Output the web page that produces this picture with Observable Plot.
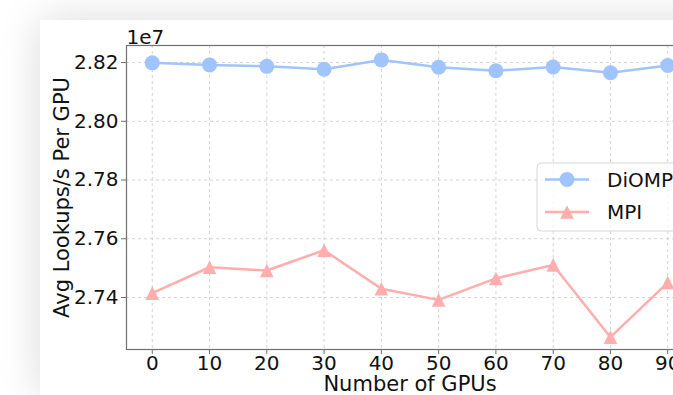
<!DOCTYPE html>
<html>
<head>
<meta charset="utf-8">
<script src="https://cdn.jsdelivr.net/npm/d3@7"></script>
<script src="https://cdn.jsdelivr.net/npm/@observablehq/plot@0.6"></script>
<style>
  html, body { margin: 0; padding: 0; background: #ffffff; overflow: hidden; width: 673px; height: 395px; }
  #card { position: absolute; left: 40px; top: 20px; width: 700px; height: 375px; background: #fff;
          box-shadow: 0 0 40px rgba(0,0,0,0.15); }
  #card svg { display: block; }
</style>
</head>
<body>
<div id="card"></div>
<script>
// ---- data ----
const gpus = [0, 10, 20, 30, 40, 50, 60, 70, 80, 90];
const diompValues = [28199000, 28192000, 28187000, 28177000, 28209000, 28184000, 28172000, 28185000, 28165000, 28190000];
const mpiValues   = [27415000, 27503000, 27492000, 27561000, 27430000, 27392000, 27465000, 27511000, 27265000, 27451000];
const seriesNames = ["DiOMP", "MPI"];
const seriesColors = ["#a0c4ff", "#ffadad"];
const xTicks = [0, 10, 20, 30, 40, 50, 60, 70, 80, 90];
const yTicks = [2.74, 2.76, 2.78, 2.80, 2.82];
const exponent = 1e7;
const xLabel = "Number of GPUs";
const yLabel = "Avg Lookups/s Per GPU";

const rows = [];
gpus.forEach((g, i) => rows.push({gpus: g, value: diompValues[i] / exponent, series: seriesNames[0]}));
gpus.forEach((g, i) => rows.push({gpus: g, value: mpiValues[i] / exponent, series: seriesNames[1]}));

// matplotlib-style triangle (bbox-centred, equal width/height)
const triUp = {
  draw(ctx, size) {
    const h = Math.sqrt(size / Math.PI);
    ctx.moveTo(0, -h); ctx.lineTo(-h, h); ctx.lineTo(h, h); ctx.closePath();
  }
};

const gridStyle = {stroke: "#c8c8c8", strokeOpacity: 1, strokeWidth: 0.8, strokeDasharray: "3,3"};

const chart = Plot.plot({
  width: 700, height: 375,
  marginLeft: 86, marginRight: 47, marginTop: 25, marginBottom: 46,
  style: {fontFamily: "DejaVu Sans, sans-serif", background: "white", color: "black", overflow: "visible"},
  x: {domain: [-4.5, 94.5]},
  y: {domain: [2.7223, 2.8258]},
  color: {domain: seriesNames, range: seriesColors},
  marks: [
    Plot.gridX(xTicks, gridStyle),
    Plot.gridY(yTicks, gridStyle),
    Plot.line(rows, {x: "gpus", y: "value", z: "series", stroke: "series", strokeWidth: 2.5}),
    Plot.dot(rows.filter(d => d.series === seriesNames[0]), {x: "gpus", y: "value", r: 7.5, fill: "series", stroke: null}),
    Plot.dot(rows.filter(d => d.series === seriesNames[1]), {x: "gpus", y: "value", r: 6.8, symbol: triUp, fill: "series", stroke: null}),
    Plot.frame({stroke: "#6f6f6f", strokeWidth: 1.2}),
    Plot.axisX(xTicks, {tickSize: 5, tickPadding: 1, fontSize: 20, label: null, stroke: "#6f6f6f", fill: "#111"}),
    Plot.axisY(yTicks, {tickSize: 5, tickPadding: 3, fontSize: 20, label: null, tickFormat: d3.format(".2f"), stroke: "#6f6f6f", fill: "#111"}),
    Plot.text([xLabel], {frameAnchor: "bottom", dy: 35, fontSize: 21, textAnchor: "middle", lineAnchor: "middle", fill: "#111"}),
    Plot.text([yLabel], {frameAnchor: "left", dx: -64, rotate: -90, fontSize: 21, textAnchor: "middle", lineAnchor: "middle", fill: "#111"}),
    Plot.text(["1e7"], {frameAnchor: "top-left", textAnchor: "start", lineAnchor: "bottom", dy: -2, fontSize: 20, fill: "#111"})
  ]
});

// legend (matplotlib-like, centre right)
const svg = d3.select(chart);
const lg = svg.append("g").attr("font-family", "DejaVu Sans, sans-serif").attr("text-anchor", "start");
lg.append("rect").attr("x", 497).attr("y", 143).attr("width", 160).attr("height", 68).attr("rx", 4)
  .attr("fill", "white").attr("fill-opacity", 0.8).attr("stroke", "#d6d6d6").attr("stroke-width", 1);
seriesNames.forEach((name, i) => {
  const cy = 159.5 + i * 32.5;
  lg.append("line").attr("x1", 505).attr("x2", 549).attr("y1", cy).attr("y2", cy)
    .attr("stroke", seriesColors[i]).attr("stroke-width", 2.5);
  if (i === 0) {
    lg.append("circle").attr("cx", 527).attr("cy", cy).attr("r", 7.5).attr("fill", seriesColors[i]);
  } else {
    const h = 6.8;
    lg.append("path").attr("d", `M527,${cy - h}L${527 - h},${cy + h}L${527 + h},${cy + h}Z`).attr("fill", seriesColors[i]);
  }
  lg.append("text").attr("x", 567).attr("y", cy).attr("dy", "0.36em").attr("font-size", 20)
    .attr("text-anchor", "start").attr("fill", "#111").text(name);
});

document.getElementById("card").appendChild(chart);
</script>
</body>
</html>
